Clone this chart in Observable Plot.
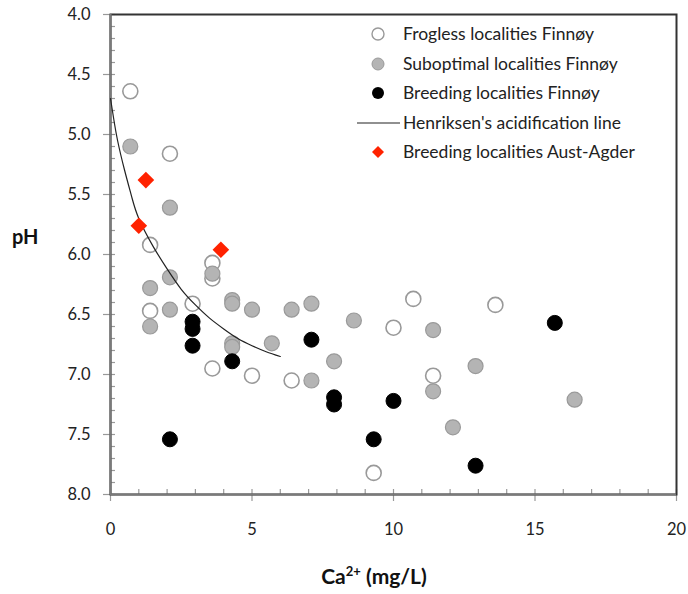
<!DOCTYPE html>
<html><head><meta charset="utf-8">
<script src="https://cdn.jsdelivr.net/npm/d3@7"></script>
<script src="https://cdn.jsdelivr.net/npm/@observablehq/plot@0.6"></script>
<style>
body{margin:0;background:#fff;font-family:Lato,"Open Sans",sans-serif;}
#wrap{position:relative;width:688px;height:594px;}
#legend{position:absolute;left:350px;top:22px;font-size:17.5px;color:#222;}
.row{position:absolute;left:0;height:24px;white-space:nowrap;}
.row svg{position:absolute;left:0;top:0;}
.row span{position:absolute;left:53px;top:0;line-height:24px;}
#ylab{position:absolute;left:12px;top:224px;font-size:20px;font-weight:bold;color:#111;}
#xlab{position:absolute;left:0;width:688px;padding-left:60px;box-sizing:border-box;text-align:center;top:563px;font-size:21px;font-weight:bold;color:#111;}
</style></head><body>
<div id="wrap"></div>
<script>
// Ca2+ (mg/L) and pH values
const froglessCa = [0.7, 2.1, 1.4, 3.6, 3.6, 2.9, 1.4, 3.6, 5.0, 6.4, 10.7, 10.0, 11.4, 13.6, 9.3];
const froglessPH = [4.64, 5.16, 5.92, 6.07, 6.20, 6.41, 6.47, 6.95, 7.01, 7.05, 6.37, 6.61, 7.01, 6.42, 7.82];

const suboptCa = [0.7, 2.1, 3.6, 2.1, 1.4, 4.3, 4.3, 2.1, 5.0, 6.4, 1.4, 5.7, 4.3, 4.3, 7.1, 8.6, 11.4, 7.9, 7.1, 11.4, 12.9, 12.1, 16.4];
const suboptPH = [5.10, 5.61, 6.16, 6.19, 6.28, 6.38, 6.41, 6.46, 6.46, 6.46, 6.60, 6.74, 6.74, 6.77, 6.41, 6.55, 6.63, 6.89, 7.05, 7.14, 6.93, 7.44, 7.21];

const breedCa = [2.9, 2.9, 2.9, 4.3, 2.1, 7.1, 7.9, 7.9, 10.0, 9.3, 12.9, 15.7];
const breedPH = [6.56, 6.62, 6.76, 6.89, 7.54, 6.71, 7.19, 7.25, 7.22, 7.54, 7.76, 6.57];

const agderCa = [1.25, 1.0, 3.9];
const agderPH = [5.38, 5.76, 5.96];

// Henriksen's acidification line
const henCa = [0, 0.1, 0.25, 0.5, 0.75, 1.0, 1.5, 2.0, 2.5, 3.0, 3.5, 4.0, 4.5, 5.0, 5.5, 6.0];
const henPH = [4.70, 4.85, 5.05, 5.30, 5.52, 5.70, 5.93, 6.12, 6.29, 6.42, 6.53, 6.62, 6.70, 6.76, 6.81, 6.85];

const xMajor = [0, 5, 10, 15, 20];
const yMajor = [4.0, 4.5, 5.0, 5.5, 6.0, 6.5, 7.0, 7.5, 8.0];
const xMinor = d3.range(0, 21, 1);
const yMinor = d3.range(40, 81, 1).map(d => d / 10);
const xAxisAt = [8];   // pH value where the x axis line sits
const yAxisAt = [0];   // Ca value where the y axis line sits

const legendItems = ["Frogless localities Finnøy", "Suboptimal localities Finnøy", "Breeding localities Finnøy", "Henriksen's acidification line", "Breeding localities Aust-Agder"];

const zip = (xs, ys) => xs.map((x, i) => ({x, y: ys[i]}));
const frogless = zip(froglessCa, froglessPH);
const subopt = zip(suboptCa, suboptPH);
const breed = zip(breedCa, breedPH);
const agder = zip(agderCa, agderPH);
const hen = zip(henCa, henPH);

const minorLen = 5;

const chart = Plot.plot({
  width: 688, height: 594,
  marginLeft: 110, marginRight: 12, marginTop: 14, marginBottom: 100,
  style: {fontFamily: "Lato, 'Open Sans', sans-serif", fontSize: "16px", color: "#222", background: "#fff"},
  x: {domain: [0, 20], label: null},
  y: {domain: [4, 8], reverse: true, label: null},
  marks: [
    Plot.axisX(xMinor, {tickSize: minorLen, dy: -minorLen, tickFormat: () => "", stroke: "#999", strokeWidth: 1.2, label: null}),
    Plot.axisY(yMinor, {tickSize: minorLen, dx: minorLen, tickFormat: () => "", stroke: "#999", strokeWidth: 1.2, label: null}),
    Plot.axisX(xMajor, {tickSize: 7, tickPadding: 22, tickFormat: d => String(d), stroke: "#999", strokeWidth: 1.2, fontSize: 16.5, fill: "#222", label: null}),
    Plot.axisY(yMajor, {tickSize: 7, tickPadding: 13, tickFormat: d => d.toFixed(1), stroke: "#999", strokeWidth: 1.2, fontSize: 16.5, fill: "#222", label: null}),
    Plot.frame({stroke: "#333", strokeWidth: 2}),
    Plot.ruleX(yAxisAt, {stroke: "#7a7a7a", strokeWidth: 2.2}),
    Plot.ruleY(xAxisAt, {stroke: "#7a7a7a", strokeWidth: 2.2}),
    Plot.dot(frogless, {x: "x", y: "y", r: 7.5, fill: "#fff", stroke: "#999", strokeWidth: 1.6}),
    Plot.dot(subopt, {x: "x", y: "y", r: 7.5, fill: "#b4b4b4", stroke: "#9a9a9a", strokeWidth: 1.2}),
    Plot.dot(breed, {x: "x", y: "y", r: 7.5, fill: "#000", stroke: "#000", strokeWidth: 1}),
    Plot.line(hen, {x: "x", y: "y", curve: "natural", stroke: "#222", strokeWidth: 1.2}),
    Plot.dot(agder, {x: "x", y: "y", r: 7.5, symbol: "diamond2", fill: "#ff2200", stroke: "none"})
  ]
});
const wrap = document.getElementById("wrap");
wrap.appendChild(chart);

// legend
const legend = document.createElement("div");
legend.id = "legend";
const swatches = [
  '<circle cx="28" cy="12" r="6" fill="#fff" stroke="#999" stroke-width="1.4"/>',
  '<circle cx="28" cy="12" r="6" fill="#b4b4b4" stroke="#9a9a9a" stroke-width="1"/>',
  '<circle cx="28" cy="12" r="6" fill="#000"/>',
  '<line x1="7" y1="12" x2="50" y2="12" stroke="#222" stroke-width="1.2"/>',
  '<path d="M28 6 L34 12 L28 18 L22 12 Z" fill="#ff2200"/>'
];
legendItems.forEach((t, i) => {
  const row = document.createElement("div");
  row.className = "row";
  row.style.top = (i * 29.5) + "px";
  row.innerHTML = '<svg width="56" height="24">' + swatches[i] + '</svg><span></span>';
  row.querySelector("span").textContent = t;
  legend.appendChild(row);
});
wrap.appendChild(legend);

const ylab = document.createElement("div");
ylab.id = "ylab"; ylab.textContent = "pH";
wrap.appendChild(ylab);
const xlab = document.createElement("div");
xlab.id = "xlab"; xlab.innerHTML = "Ca<sup style='font-size:13px;vertical-align:8px'>2+</sup> (mg/L)";
wrap.appendChild(xlab);
</script>
</body></html>
